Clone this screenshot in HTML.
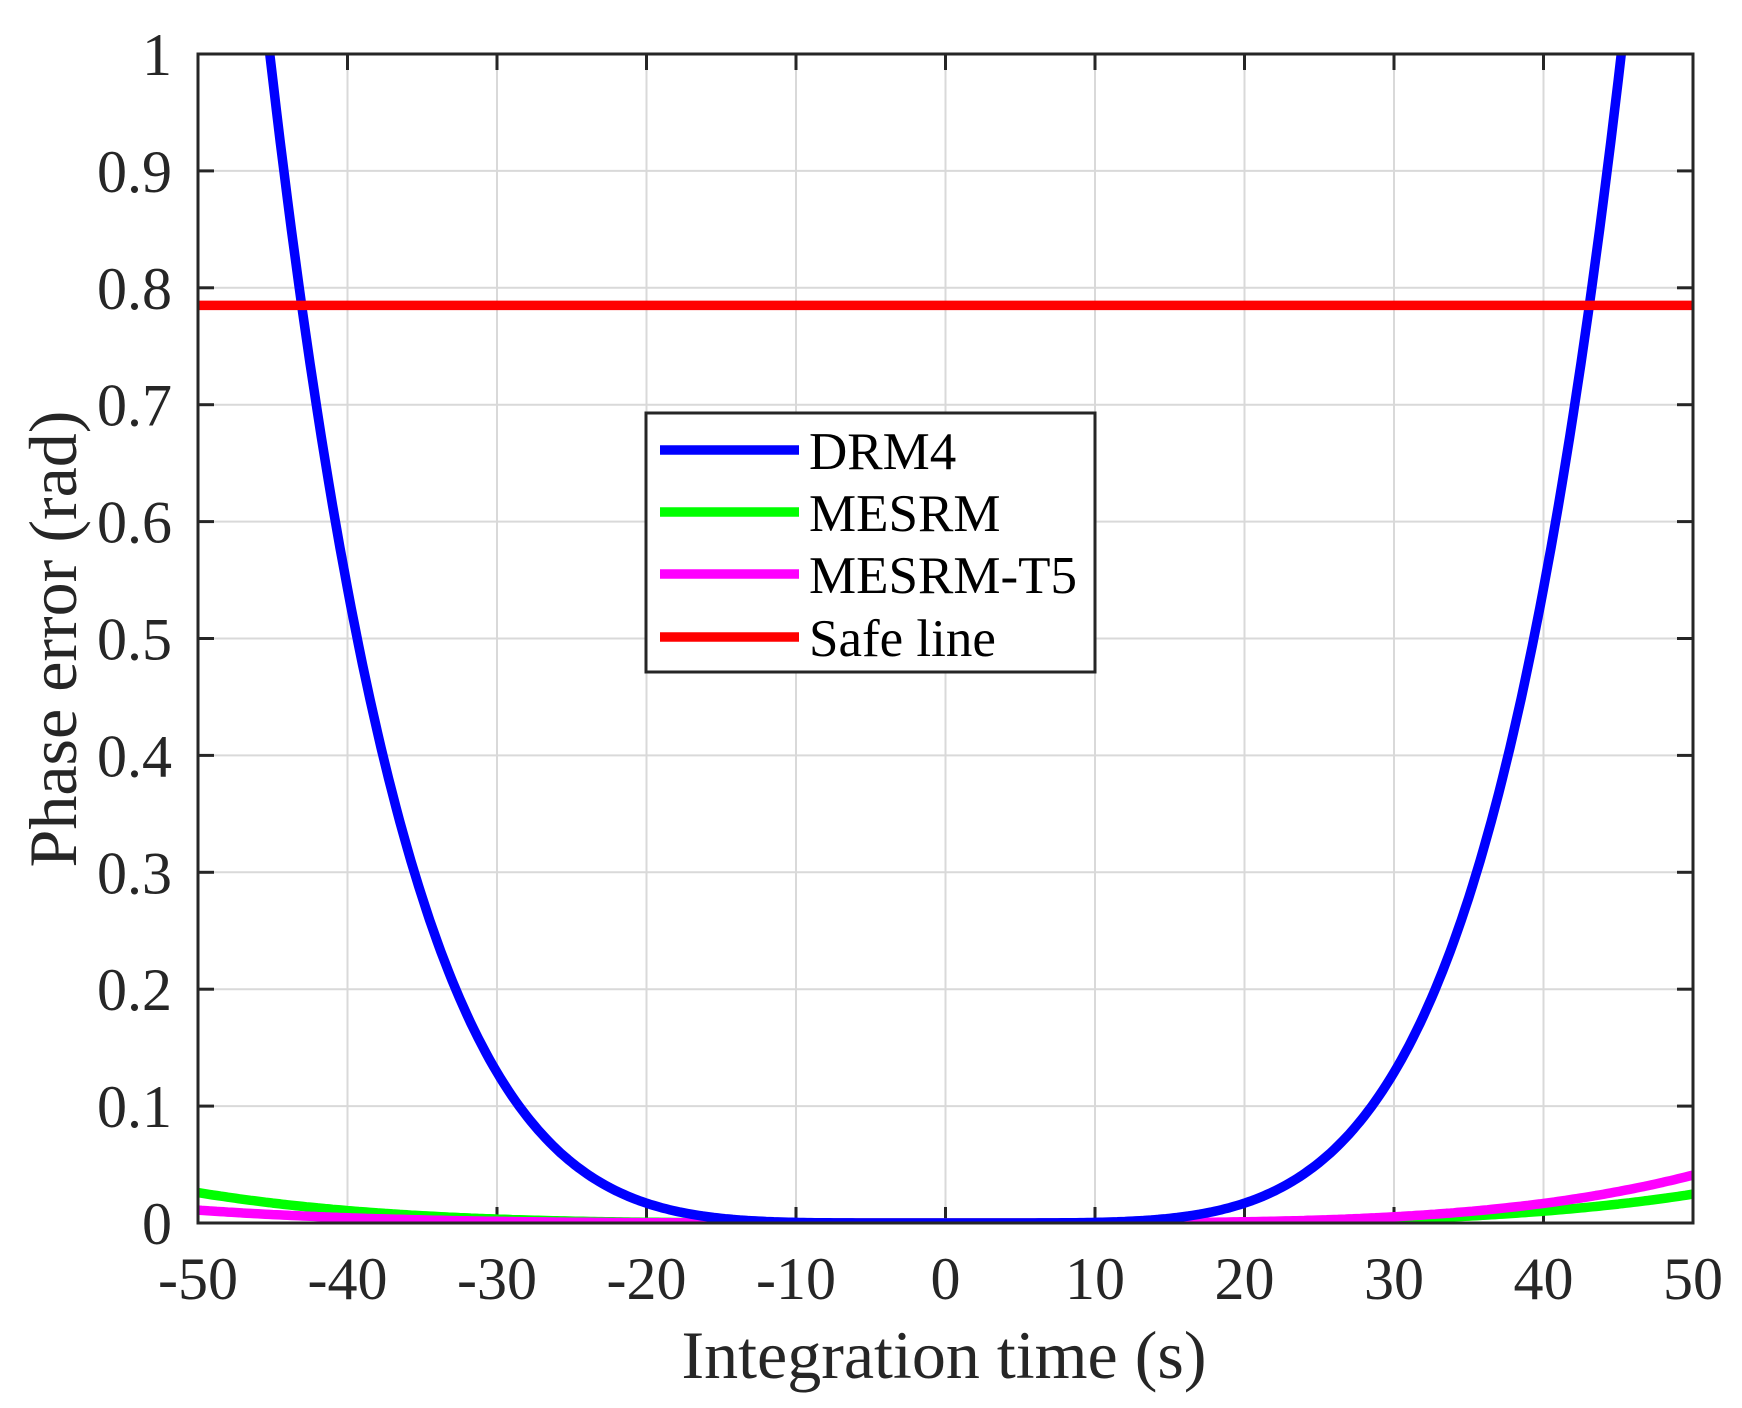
<!DOCTYPE html>
<html><head><style>body{margin:0;background:#fff}svg{display:block}</style></head><body>
<svg id="s" width="1742" height="1408" xmlns="http://www.w3.org/2000/svg" font-family="Liberation Serif, serif" fill="#262626">
<defs><clipPath id="c"><rect x="198" y="54" width="1495" height="1169"/></clipPath></defs>
<rect width="1742" height="1408" fill="#fff"/>
<g id="grid" stroke="#d9d9d9" stroke-width="2"></g>
<g id="ticks" stroke="#262626" stroke-width="3"></g>
<g id="labels" font-size="60"></g>
<g id="series" fill="none" stroke-width="9.5" stroke-linejoin="round" clip-path="url(#c)"></g>
<rect x="198" y="54" width="1495" height="1169" fill="none" stroke="#262626" stroke-width="3"/>
<rect x="646" y="413" width="449" height="259" fill="#fff" stroke="#262626" stroke-width="3"/>
<g stroke-width="9.5">
<line x1="660" y1="450" x2="799" y2="450" stroke="#0000ff"/>
<line x1="660" y1="512" x2="799" y2="512" stroke="#00ff00"/>
<line x1="660" y1="574" x2="799" y2="574" stroke="#ff00ff"/>
<line x1="660" y1="637" x2="799" y2="637" stroke="#ff0000"/>
</g>
<g font-size="53" fill="#000">
<text x="809" y="469">DRM4</text>
<text x="809" y="531">MESRM</text>
<text x="809" y="593">MESRM-T5</text>
<text x="809" y="656">Safe line</text>
</g>
<text x="944" y="1378" font-size="68" text-anchor="middle">Integration time (s)</text>
<text transform="translate(76,639) rotate(-90)" font-size="68" text-anchor="middle">Phase error (rad)</text>
</svg>
<script>
const NS="http://www.w3.org/2000/svg";
const L=198,R=1693,T=54,B=1223,W=R-L,H=B-T;
const X=t=>L+(t+50)/100*W, Y=v=>B-v*H;
function el(p,tag,a,txt){const e=document.createElementNS(NS,tag);for(const k in a)e.setAttribute(k,a[k]);if(txt!=null)e.textContent=txt;document.getElementById(p).appendChild(e);}
for(let i=-50;i<=50;i+=10){const x=X(i);
 if(i>-50&&i<50)el("grid","line",{x1:x,y1:T,x2:x,y2:B});
 el("ticks","line",{x1:x,y1:B,x2:x,y2:B-16});el("ticks","line",{x1:x,y1:T,x2:x,y2:T+16});
 el("labels","text",{x:x,y:1299,"text-anchor":"middle"},String(i));}
for(let j=0;j<=10;j++){const y=Y(j/10);
 if(j>0&&j<10)el("grid","line",{x1:L,y1:y,x2:R,y2:y});
 el("ticks","line",{x1:L,y1:y,x2:L+16,y2:y});el("ticks","line",{x1:R,y1:y,x2:R-16,y2:y});
 el("labels","text",{x:172,y:y+21,"text-anchor":"end"},j==0?"0":j==10?"1":"0."+j);}
function path(f,c){let d="";let first=true;for(let t=-50;t<=50.001;t+=0.25){let v=f(t);if(v>1.05){first=true;continue;}d+=(first?"M":"L")+X(t).toFixed(1)+","+Y(v).toFixed(1);first=false;}
 el("series","path",{d:d,stroke:c});}
path(t=>0.026*Math.pow(t/50,4)*(t>0?0.95:1),"#00ff00");
path(t=>(t>0?0.041:0.011)*Math.pow(t/50,4),"#ff00ff");
path(t=>Math.pow(Math.abs(t)/45.2,5),"#0000ff");
el("series","line",{x1:L,y1:Y(0.785),x2:R,y2:Y(0.785),stroke:"#ff0000"});
</script>
</body></html>
